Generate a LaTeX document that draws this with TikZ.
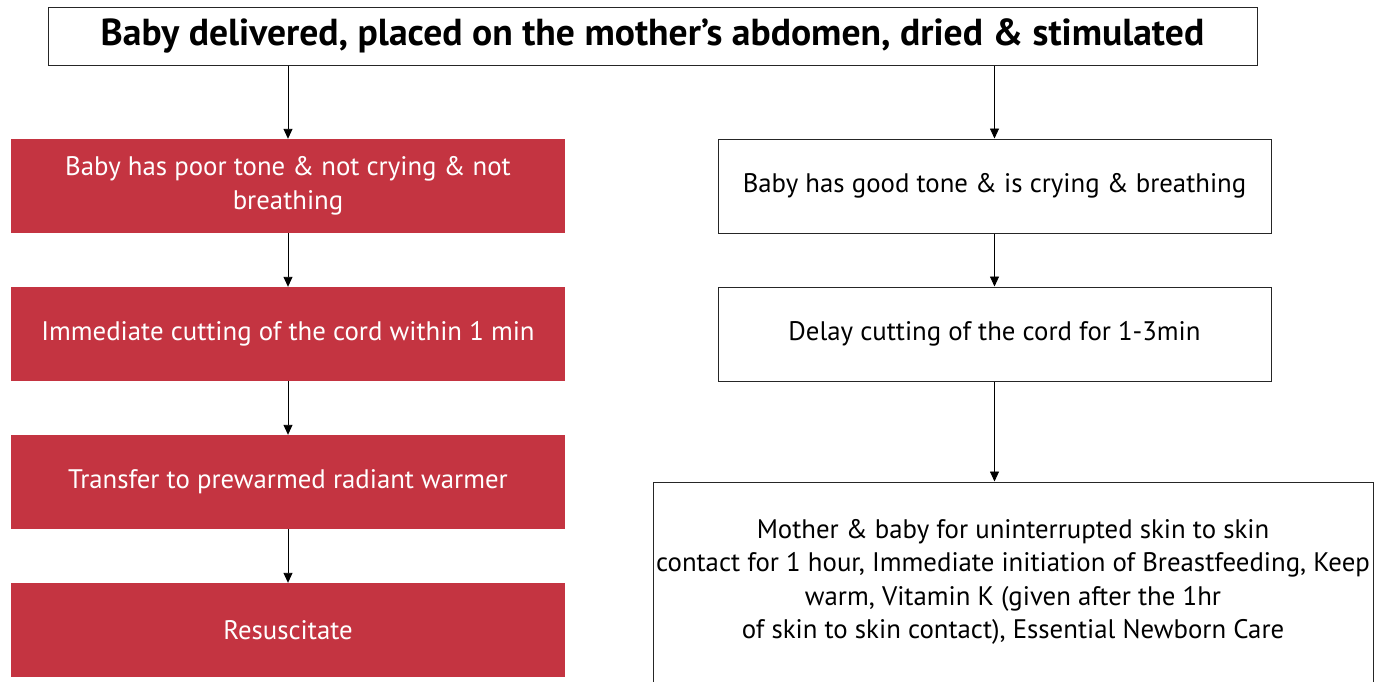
\documentclass[tikz,border=0pt]{standalone}
\usepackage{fontspec}
\setmainfont{PT Sans}
\usetikzlibrary{arrows.meta}
\definecolor{alarmred}{RGB}{196,52,65}

\begin{document}
\begin{tikzpicture}[x=1pt, y=-1pt,
  base/.style={rectangle, inner sep=0pt, align=center,
               font=\fontsize{26.8}{33.5}\selectfont},
  redbox/.style={base, fill=alarmred, text=white,
                 minimum width=554pt, minimum height=94pt},
  whitebox/.style={base, draw=black!85, line width=1pt, fill=white,
                   minimum width=553pt, minimum height=94pt},
  flow/.style={-{Triangle[length=10pt, width=9pt]}, line width=0.9pt}]
\useasboundingbox (0,0) rectangle (1381,681);
\clip (0,0) rectangle (1381,681);
% ---------------- top ----------------
\node[base, draw=black!85, line width=1pt, minimum width=1209pt,
      minimum height=58pt, font=\fontsize{37.6}{40}\selectfont\bfseries]
      (title) at (652.5,36)
      {Baby delivered, placed on the mother’s abdomen, dried \& stimulated};
% ---------------- left column ----------------
\node[redbox] (poor) at (288,186)
      {Baby has poor tone \& not crying \& not\\ breathing};
\node[redbox] (cut) at (288,334)
      {Immediate cutting of the cord within 1 min};
\node[redbox] (warm) at (288,482)
      {Transfer to prewarmed radiant warmer};
\node[redbox] (resus) at (288,630) {Resuscitate};
% ---------------- right column ----------------
\node[whitebox] (good) at (994.5,186)
      {Baby has good tone \& is crying \& breathing};
\node[whitebox] (delay) at (994.5,334)
      {Delay cutting of the cord for 1-3min};
\node[whitebox, minimum width=720pt, minimum height=200pt] (skin) at (1013,582)
      {Mother \& baby for uninterrupted skin to skin\\
       contact for 1 hour, Immediate initiation of Breastfeeding, Keep\\
       warm, Vitamin K (given after the 1hr\\
       of skin to skin contact), Essential Newborn Care};
% ---------------- arrows ----------------
\draw[flow] (title.south -| poor.north) -- (poor.north);
\draw[flow] (poor) -- (cut);
\draw[flow] (cut) -- (warm);
\draw[flow] (warm) -- (resus);
\draw[flow] (title.south -| good.north) -- (good.north);
\draw[flow] (good) -- (delay);
\draw[flow] (delay.south) -- (delay.south |- skin.north);
\end{tikzpicture}
\end{document}
